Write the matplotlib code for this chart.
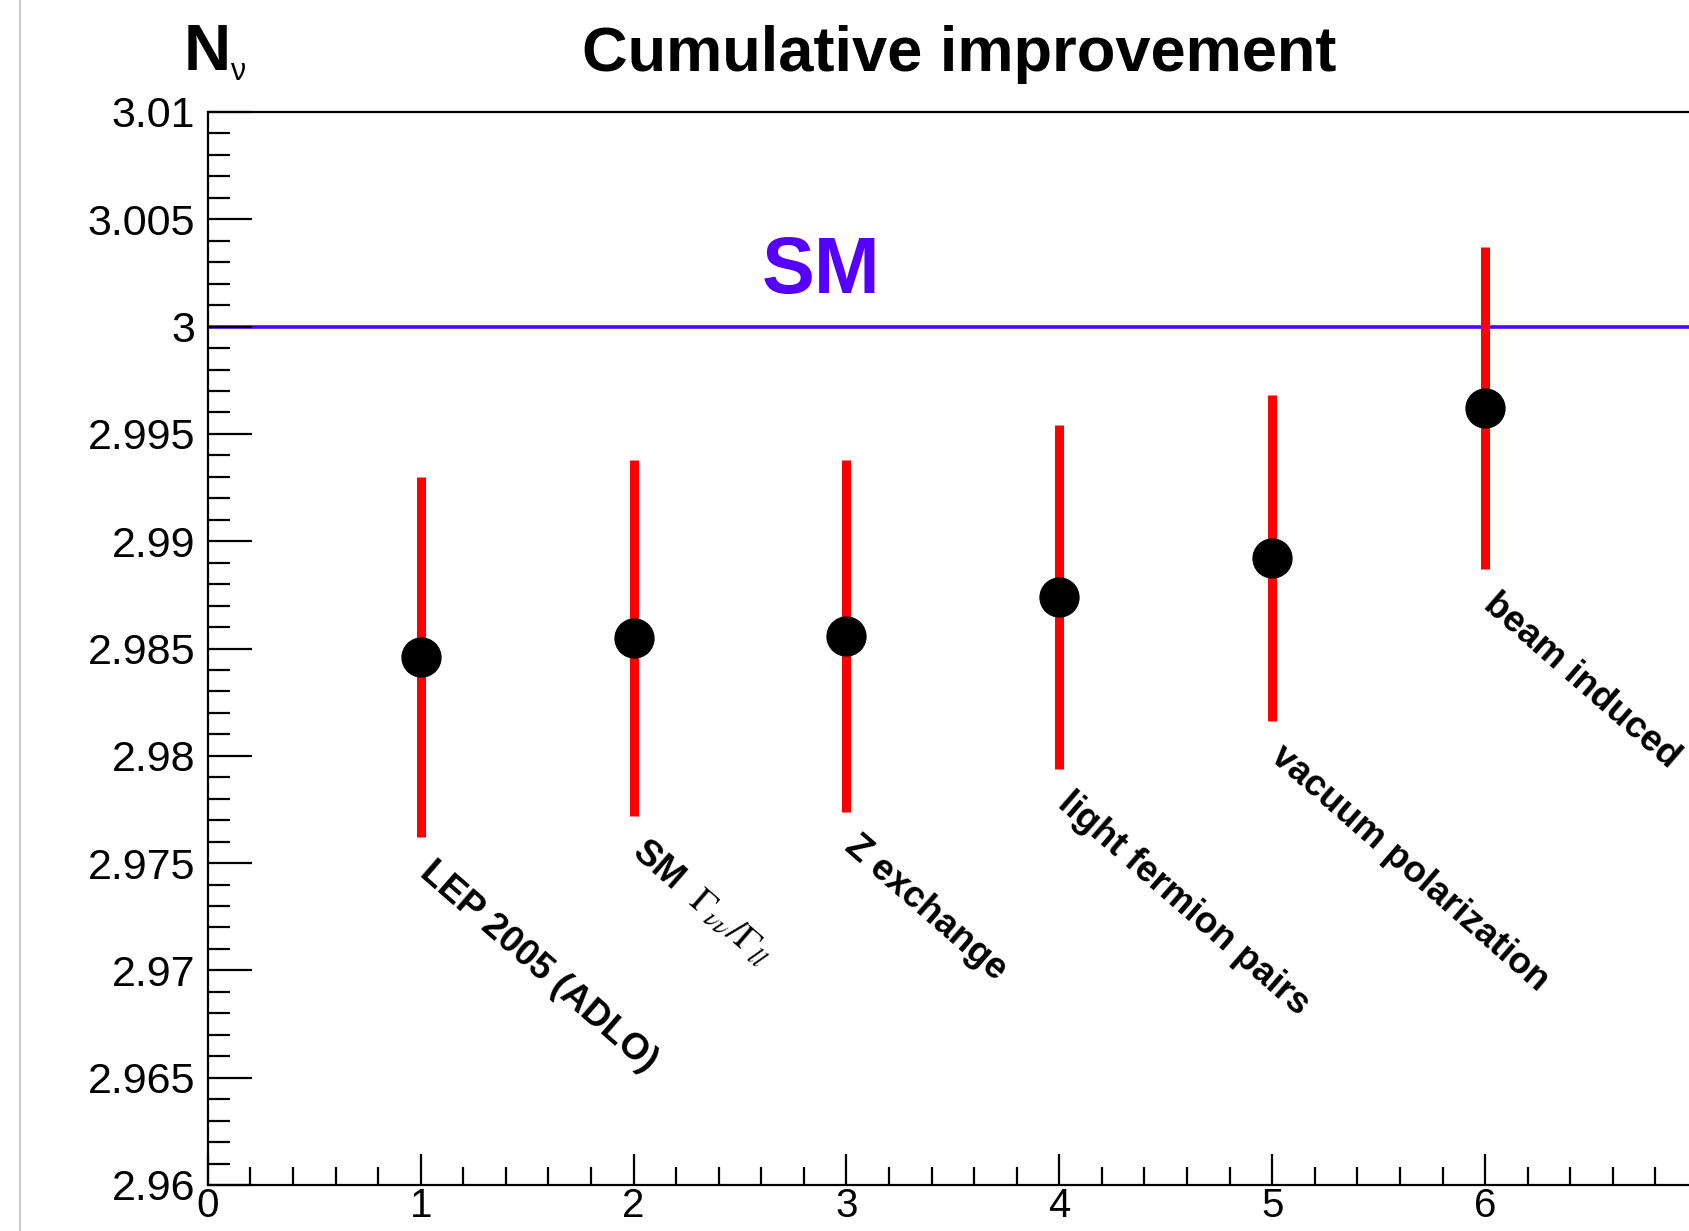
import numpy as np
import matplotlib.pyplot as plt
from matplotlib.ticker import MultipleLocator
from matplotlib.lines import Line2D

plt.rcParams['font.family'] = ['Liberation Sans', 'DejaVu Sans']
plt.rcParams['mathtext.fontset'] = 'stix'

# values
steps = [1, 2, 3, 4, 5, 6]
n_nu = [2.9846, 2.9855, 2.9856, 2.9874, 2.9892, 2.9962]
n_nu_err = [0.0084, 0.0083, 0.0082, 0.0080, 0.0076, 0.0075]
step_labels = ["LEP 2005 (ADLO)",
               r"SM  $\mathit{\Gamma}_{\nu\nu}/\mathit{\Gamma}_{ll}$",
               "Z exchange",
               "light fermion pairs",
               "vacuum polarization",
               "beam induced"]
sm_value = 3.0

W, H = 1689, 1231
fig = plt.figure(figsize=(W / 100, H / 100), dpi=100)

# axes frame runs past the right edge of the picture (x = 7 is cut off)
x0, x1 = 207.8, 1698.0
y_top, y_bot = 112.0, 1185.0
ax = fig.add_axes([x0 / W, 1 - y_bot / H, (x1 - x0) / W, (y_bot - y_top) / H])
ax.set_xlim(0, 7)
ax.set_ylim(2.96, 3.01)

for s in ['top', 'left', 'bottom', 'right']:
    ax.spines[s].set_linewidth(1.6)
ax.spines['right'].set_visible(False)

ax.xaxis.set_major_locator(MultipleLocator(1))
ax.xaxis.set_minor_locator(MultipleLocator(0.2))
ax.yaxis.set_major_locator(MultipleLocator(0.005))
ax.yaxis.set_minor_locator(MultipleLocator(0.001))
ax.tick_params(axis='both', which='both', direction='in', width=1.6,
               top=False, right=False)
ax.tick_params(axis='y', which='major', length=32, pad=9, labelsize=31)
ax.tick_params(axis='y', which='minor', length=16)
ax.tick_params(axis='x', which='major', length=22, pad=1.5, labelsize=29)
ax.tick_params(axis='x', which='minor', length=13)
ax.yaxis.set_major_formatter(plt.FuncFormatter(lambda v, p: ('%.3f' % v).rstrip('0').rstrip('.')))
ax.xaxis.set_major_formatter(plt.FuncFormatter(lambda v, p: '%d' % v))

# SM line
ax.axhline(sm_value, color='#5500ff', lw=2.6, zorder=1)
ax.text(2.88, sm_value + 0.0025, "SM", color='#5500ff', fontsize=57,
        fontweight='bold', ha='center', va='center')

# error bars and points
ax.errorbar(steps, n_nu, yerr=n_nu_err, fmt='o', color='black', ms=28,
            ecolor='red', elinewidth=6.5, capsize=0, zorder=3)

for x, v, e, lab in zip(steps, n_nu, n_nu_err, step_labels):
    ax.text(x + 0.07, v - e - 0.0008, lab, rotation=-41, rotation_mode='anchor',
            ha='left', va='top', fontsize=26.5, fontweight='bold')

fig.text(959 / W, 1 - 71 / H, "Cumulative improvement", fontsize=45.5,
         fontweight='bold', ha='center', va='baseline')
fig.text(184 / W, 1 - 70 / H, "N", fontsize=47, fontweight='bold',
         ha='left', va='baseline')
fig.text(230 / W, 1 - 80 / H, "ν", fontsize=22, ha='left', va='baseline')

# faint window border on the left
fig.add_artist(Line2D([20 / W, 20 / W], [0, 1], color='#cccccc', lw=1.5))

fig.savefig("out.png", dpi=100)
